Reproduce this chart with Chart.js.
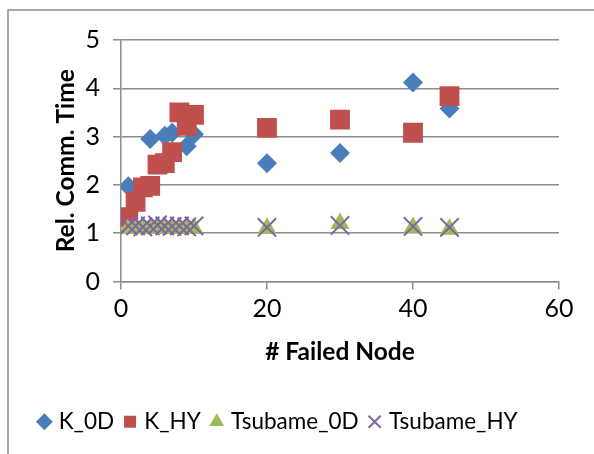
<!DOCTYPE html>
<html>
<head>
<meta charset="utf-8">
<script src="https://cdn.jsdelivr.net/npm/chart.js@4/dist/chart.umd.min.js"></script>
<style>
  html, body { margin: 0; padding: 0; background: #fff; }
  #wrap { width: 594px; height: 454px; }
</style>
</head>
<body>
<div id="wrap"><canvas id="chart" width="594" height="454"></canvas></div>
<script>
const seriesNames = ['K_0D', 'K_HY', 'Tsubame_0D', 'Tsubame_HY'];

const k0dX = [1, 4, 6, 7, 9, 10, 20, 30, 40, 45];
const k0dY = [1.97, 2.95, 3.02, 3.08, 2.8, 3.05, 2.45, 2.66, 4.12, 3.58];

const khyX = [1, 2, 3, 4, 5, 6, 7, 8, 9, 10, 20, 30, 40, 45];
const khyY = [1.33, 1.65, 1.95, 1.98, 2.42, 2.45, 2.68, 3.5, 3.22, 3.45, 3.18, 3.35, 3.08, 3.84];

const ts0dX = [1, 2, 3, 4, 5, 6, 7, 8, 9, 10, 20, 30, 40, 45];
const ts0dY = [1.1, 1.1, 1.1, 1.1, 1.1, 1.1, 1.1, 1.1, 1.1, 1.1, 1.1, 1.2, 1.12, 1.08];

const tshyX = [1, 2, 3, 4, 5, 6, 7, 8, 9, 10, 20, 30, 40, 45];
const tshyY = [1.15, 1.15, 1.13, 1.15, 1.17, 1.15, 1.14, 1.15, 1.13, 1.15, 1.12, 1.16, 1.14, 1.12];

const xTicks = [0, 20, 40, 60];
const yTicks = [0, 1, 2, 3, 4, 5];

function pts(xs, ys) {
  return xs.map((x, i) => ({ x: x, y: ys[i] }));
}

const gridColor = '#8c8c8c';
Chart.defaults.font.family = 'Lato, "Open Sans", sans-serif';
Chart.defaults.color = '#000';

// outer chart frame like the Excel chart area border
const frame = {
  id: 'frame',
  beforeDraw(chart) {
    const ctx = chart.ctx;
    ctx.save();
    ctx.strokeStyle = '#8c8c8c';
    ctx.lineWidth = 1.5;
    ctx.strokeRect(8, 10, 620, 480);
    ctx.restore();
  }
};

const ctx = document.getElementById('chart').getContext('2d');
const chart = new Chart(ctx, {
  type: 'scatter',
  data: {
    datasets: [
      {
        label: seriesNames[0],
        data: pts(k0dX, k0dY),
        pointStyle: 'rectRot',
        pointRadius: 10,
        backgroundColor: '#4a7ebb',
        borderColor: '#4a7ebb',
        borderWidth: 0,
        order: 4
      },
      {
        label: seriesNames[1],
        data: pts(khyX, khyY),
        pointStyle: 'rect',
        pointRadius: 14,
        backgroundColor: '#c0504d',
        borderColor: '#c0504d',
        borderWidth: 0,
        order: 3
      },
      {
        label: seriesNames[2],
        data: pts(ts0dX, ts0dY),
        pointStyle: 'triangle',
        pointRadius: 11,
        backgroundColor: '#9bbb59',
        borderColor: '#9bbb59',
        borderWidth: 0,
        order: 2
      },
      {
        label: seriesNames[3],
        data: pts(tshyX, tshyY),
        pointStyle: 'crossRot',
        pointRadius: 13,
        backgroundColor: '#8064a2',
        borderColor: '#8064a2',
        borderWidth: 2,
        order: 1
      }
    ]
  },
  options: {
    responsive: false,
    animation: false,
    layout: { padding: { left: 0, top: 40, right: 35, bottom: 11 } },
    plugins: {
      tooltip: { enabled: false },
      legend: {
        position: 'bottom',
        labels: {
          usePointStyle: true,
          boxWidth: 6,
          boxHeight: 12,
          padding: 13,
          font: { size: 22.5 },
          sort: (a, b) => a.datasetIndex - b.datasetIndex
        }
      }
    },
    scales: {
      x: {
        type: 'linear',
        min: 0,
        max: 60,
        afterBuildTicks: (axis) => { axis.ticks = xTicks.map(v => ({ value: v })); },
        afterFit: (axis) => { axis.height = 116; },
        grid: { drawOnChartArea: false, drawTicks: true, tickLength: 8, color: gridColor, lineWidth: 1.5 },
        border: { color: gridColor, width: 1.5 },
        ticks: { font: { size: 25 }, padding: 4, maxRotation: 0 },
        title: {
          display: true,
          text: '# Failed Node',
          font: { size: 24.5, weight: 'bold' },
          padding: { top: 0, bottom: 31 }
        }
      },
      y: {
        type: 'linear',
        min: 0,
        max: 5,
        afterBuildTicks: (axis) => { axis.ticks = yTicks.map(v => ({ value: v })); },
        afterFit: (axis) => { axis.width = 121; },
        grid: { drawOnChartArea: true, drawTicks: true, tickLength: 8, color: gridColor, lineWidth: 1.5 },
        border: { color: gridColor, width: 1.5 },
        ticks: { font: { size: 25 }, padding: 13 },
        title: {
          display: true,
          text: 'Rel. Comm. Time',
          font: { size: 24.5, weight: 'bold' },
          padding: { top: 51, bottom: 0 }
        }
      }
    }
  },
  plugins: [frame]
});
</script>
</body>
</html>
